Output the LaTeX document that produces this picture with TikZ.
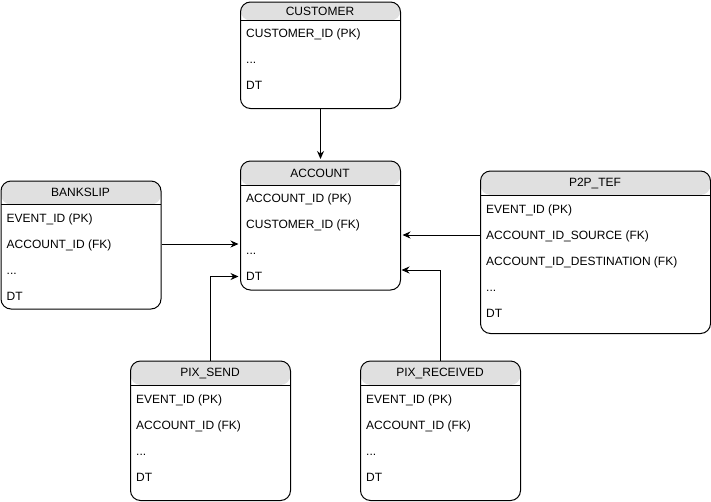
\documentclass[tikz,border=0pt]{standalone}
\usepackage{fontspec}
\setmainfont{Liberation Sans}
\usetikzlibrary{positioning,arrows.meta}
\definecolor{hdrgray}{RGB}{224,224,224}
\tikzset{
	tbl/.style={draw,line width=1pt,rounded corners=10pt,anchor=north west,inner sep=0pt,minimum width=160pt},
	head/.style={path picture={
		\fill[hdrgray] ([yshift=1pt]path picture bounding box.north west) rectangle ([yshift=-#1]path picture bounding box.north east);
		\draw[line width=1pt] ([yshift=-#1]path picture bounding box.north west) -- ([yshift=-#1]path picture bounding box.north east);}},
	ttl/.style={inner sep=0pt,text height=8.6pt,text depth=0pt},
	row/.style={anchor=west,inner sep=0pt,text height=8.6pt,text depth=0pt},
	link/.style={->,line width=1pt,shorten >=1.5pt},
}
\begin{document}
\begin{tikzpicture}[x=1pt,y=-1pt,>={Stealth[length=8pt,width=7pt]},font=\fontsize{12}{14}\selectfont]
	\def\etc{...}
	\useasboundingbox (0,0) rectangle (711,501);
	% tables
	\node[tbl,minimum height=106.5pt,head=18.5pt] (customer) at (240,1.5) {};
	\node[ttl] (customer-t) at (320,10.75) {CUSTOMER};
	\foreach \t [count=\i] in {CUSTOMER\_ID (PK),\etc,DT}
		\node[row] (customer-\i) at (246,{33.5+26*(\i-1)}) {\t};
	\node[tbl,minimum height=129pt,head=24.5pt] (account) at (240,160.5) {};
	\node[ttl] (account-t) at (320,172.75) {ACCOUNT};
	\foreach \t [count=\i] in {ACCOUNT\_ID (PK),CUSTOMER\_ID (FK),\etc,DT}
		\node[row] (account-\i) at (246,{198.5+26*(\i-1)}) {\t};
	\node[tbl,minimum height=128pt,head=23.5pt] (bankslip) at (0.5,180.5) {};
	\node[ttl] (bankslip-t) at (80.5,192.25) {BANKSLIP};
	\foreach \t [count=\i] in {EVENT\_ID (PK),ACCOUNT\_ID (FK),\etc,DT}
		\node[row] (bankslip-\i) at (6.5,{218+26*(\i-1)}) {\t};
	\node[tbl,minimum width=230pt,minimum height=162.5pt,head=24pt] (p2p) at (480,170.5) {};
	\node[ttl] (p2p-t) at (595,182.5) {P2P\_TEF};
	\foreach \t [count=\i] in {EVENT\_ID (PK),ACCOUNT\_ID\_SOURCE (FK),ACCOUNT\_ID\_DESTINATION (FK),\etc,DT}
		\node[row] (p2p-\i) at (486,{209+26*(\i-1)}) {\t};
	\node[tbl,minimum height=139.5pt,head=24pt] (pixsend) at (130,360.5) {};
	\node[ttl] (pixsend-t) at (210,372.5) {PIX\_SEND};
	\foreach \t [count=\i] in {EVENT\_ID (PK),ACCOUNT\_ID (FK),\etc,DT}
		\node[row] (pixsend-\i) at (136,{399+26*(\i-1)}) {\t};
	\node[tbl,minimum height=139.5pt,head=24pt] (pixrec) at (360,360.5) {};
	\node[ttl] (pixrec-t) at (440,372.5) {PIX\_RECEIVED};
	\foreach \t [count=\i] in {EVENT\_ID (PK),ACCOUNT\_ID (FK),\etc,DT}
		\node[row] (pixrec-\i) at (366,{399+26*(\i-1)}) {\t};
	% links
	\coordinate (acc-in) at (400,270);
	\draw[link] (customer.south) -- (account.north);
	\draw[link] (bankslip.east |- bankslip-2) -- (account.west |- bankslip-2);
	\draw[link] (pixsend.north) |- (account.west |- account-4);
	\draw[link] (p2p.west |- p2p-2) -- (account.east |- p2p-2);
	\draw[link] (pixrec.north) |- (acc-in);
\end{tikzpicture}
\end{document}
